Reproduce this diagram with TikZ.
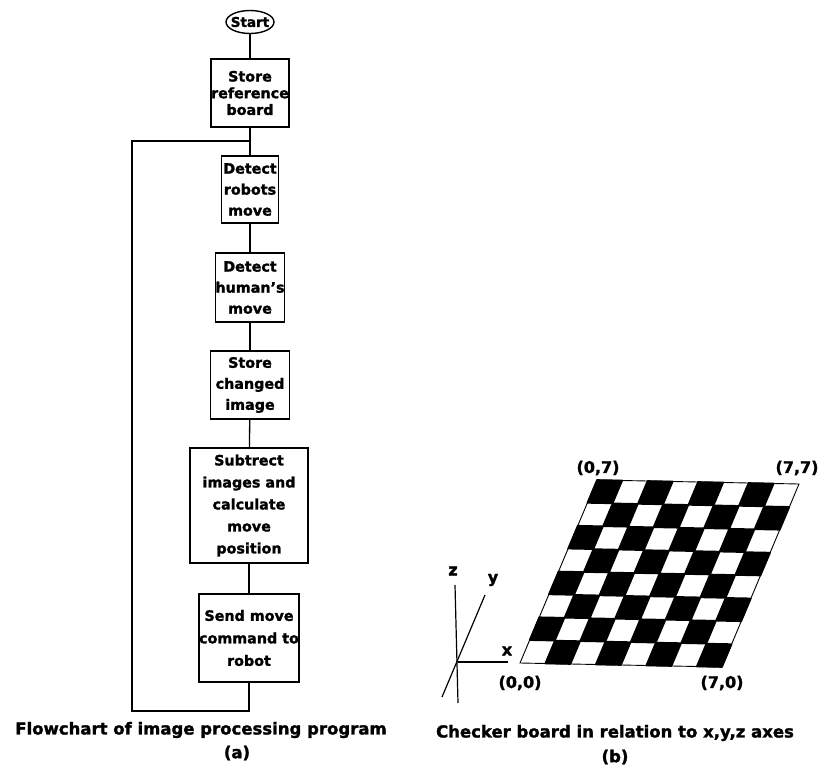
\documentclass[tikz,border=0pt]{standalone}
\usepackage{fontspec}
\setmainfont{DejaVu Sans}[BoldFeatures={FakeBold=1.6}]
\usetikzlibrary{shapes.geometric}
\begin{document}
\begin{tikzpicture}[x=1pt,y=-1pt,
  boxfont/.style={font=\fontsize{14.3}{21}\bfseries\selectfont},
  stepbox/.style={draw, line width=1.2pt, inner sep=0pt, align=center, boxfont},
  flow/.style={line width=1.3pt},
  caption/.style={font=\fontsize{16.5}{20}\bfseries\selectfont, inner sep=0pt},
  coordlabel/.style={font=\fontsize{16}{18}\bfseries\selectfont, inner sep=0pt},
  axislabel/.style={font=\fontsize{16}{18}\bfseries\selectfont, inner sep=0pt},
  axis/.style={line width=1.2pt}
]
\useasboundingbox (0,0) rectangle (820,767);

% ---- (a) flowchart ----
\node[draw, ellipse, line width=1.4pt, minimum width=48pt, minimum height=23pt, inner sep=0pt,
      label={[boxfont, font=\fontsize{13.5}{16}\bfseries\selectfont, inner sep=0pt]center:Start}] (start) at (250,22) {};
\node[stepbox, minimum width=78pt, minimum height=68pt,
      font=\fontsize{14.3}{16.7}\bfseries\selectfont] (b1) at (250,93) {Store\\reference\\board};
\node[stepbox, minimum width=57pt, minimum height=67pt] (b2) at (250,189.5) {Detect\\robots\\move};
\node[stepbox, minimum width=68pt, minimum height=69pt] (b3) at (250,287.5) {Detect\\human's\\move};
\node[stepbox, minimum width=79pt, minimum height=68pt] (b4) at (250,385) {Store\\changed\\image};
\node[stepbox, minimum width=118pt, minimum height=115pt,
      font=\fontsize{14.3}{22}\bfseries\selectfont] (b5) at (249,505.5) {Subtrect\\images and\\calculate\\move\\position};
\node[stepbox, minimum width=100pt, minimum height=88pt,
      font=\fontsize{14.3}{22.5}\bfseries\selectfont] (b6) at (249,638) {Send move\\command to\\robot};

\coordinate (join) at (250,141);
\coordinate (loopTop) at (132,141);
\coordinate (loopBot) at (132,711);

\draw[flow] (start) -- (b1);
\draw[flow] (b1) -- (b2);
\draw[flow] (b2) -- (b3);
\draw[flow] (b3) -- (b4);
\draw[flow] (b4) -- (b5);
\draw[flow] (b5) -- (b6);
\draw[flow, line width=1.6pt] (b6.south) |- (loopBot) -- (loopTop) -- (join);

\node[caption] (capA) at (201,730) {Flowchart of image processing program};
\node[caption] (capAl) at (237,753) {(a)};

% ---- (b) checker board ----
\begin{scope}[shift={(520pt,-663pt)}, x={(25.25pt,-0.5pt)}, y={(9.625pt,22.875pt)}]
  \foreach \i in {0,...,7} {
    \foreach \j in {0,...,7} {
      \pgfmathtruncatemacro{\sqpar}{mod(\i+\j,2)}
      \ifnum\sqpar=1
        \filldraw[black, line width=1.6pt, line join=round] (\i,\j) -- ++(1,0) -- ++(0,1) -- ++(-1,0) -- cycle;
      \fi
    }
  }
  \draw[line width=0.9pt] (0,0) -- (8,0) -- (8,8) -- (0,8) -- cycle;
\end{scope}

\node[coordlabel] (c00) at (520,683) {(0,0)};
\node[coordlabel] (c70) at (722,683) {(7,0)};
\node[coordlabel] (c07) at (598,468) {(0,7)};
\node[coordlabel] (c77) at (797,468) {(7,7)};

% axes
\coordinate (o) at (458,662);
\coordinate (zt) at (455,585);
\coordinate (zb) at (458,703);
\coordinate (yt) at (485,595);
\coordinate (yb) at (442,697);
\coordinate (xt) at (508,662);
\draw[axis] (zb) -- (zt);
\draw[axis] (yb) -- (yt);
\draw[axis] (o) -- (xt);
\node[axislabel] (lz) at (453,571) {z};
\node[axislabel] (ly) at (493,580) {y};
\node[axislabel] (lx) at (507,651) {x};

\node[caption] (capB) at (615,733) {Checker board in relation to x,y,z axes};
\node[caption] (capBl) at (615,757) {(b)};
\end{tikzpicture}
\end{document}
